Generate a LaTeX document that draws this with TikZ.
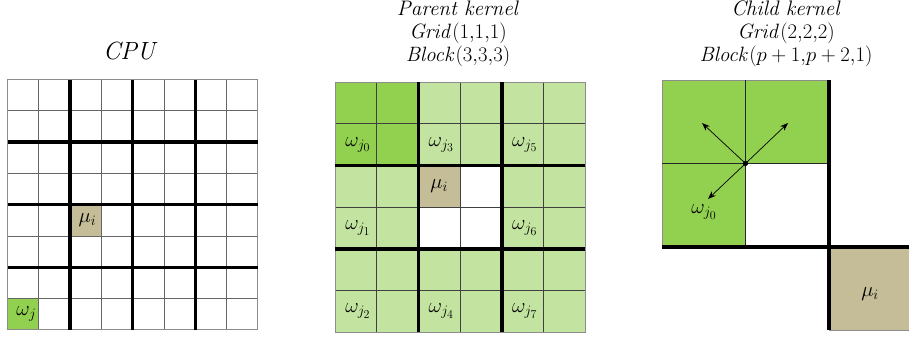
\documentclass[tikz,border=0pt]{standalone}
\usepackage{tikz}
\usetikzlibrary{arrows.meta}
\DeclareMathSizes{20}{20}{15}{12}
\definecolor{dgreen}{HTML}{92D050}
\definecolor{lgreen}{HTML}{C3E4A0}
\definecolor{tan}{HTML}{C4BD97}
\tikzset{
  thinline/.style={draw=black!75, line width=0.9pt},
  cpuline/.style={draw=black!60, line width=0.9pt},
  outline/.style={draw=black!45, line width=0.9pt},
  thickline/.style={draw=black, line width=3.4pt},
  lbl/.style={font=\fontsize{20}{20}\selectfont, inner sep=0pt},
  ttl/.style={font=\fontsize{21}{23}\selectfont, align=center, inner sep=0pt},
  arr/.style={-{Stealth[length=8pt,width=6pt]}, line width=0.7pt}
}
\begin{document}
\begin{tikzpicture}[x=1pt,y=-1pt]
\useasboundingbox (0,0) rectangle (909,340);
% ---------- CPU ----------
\def\cx{7.5}\def\cy{79.5}\def\cc{31.3}
\fill[dgreen] (\cx,\cy+7*\cc) rectangle (\cx+\cc,\cy+8*\cc);
\fill[tan] (\cx+2*\cc,\cy+4*\cc) rectangle (\cx+3*\cc,\cy+5*\cc);
\foreach \i in {1,...,7} {
  \draw[cpuline] (\cx+\i*\cc,\cy) -- (\cx+\i*\cc,\cy+8*\cc);
  \draw[cpuline] (\cx,\cy+\i*\cc) -- (\cx+8*\cc,\cy+\i*\cc);
}
\draw[outline] (\cx,\cy) rectangle (\cx+8*\cc,\cy+8*\cc);
\foreach \i in {2,4,6} {
  \draw[thickline] (\cx+\i*\cc,\cy) -- (\cx+\i*\cc,\cy+8*\cc);
  \draw[thickline] (\cx,\cy+\i*\cc) -- (\cx+8*\cc,\cy+\i*\cc);
}
\node[ttl, font=\fontsize{25}{25}\selectfont] (cputitle) at (131,51) {$\mathit{CPU}$};
\node[lbl] (cpumu) at (\cx+2.55*\cc,\cy+4.5*\cc) {$\mu_i$};
\node[lbl] (cpuw) at (\cx+0.6*\cc,\cy+7.5*\cc) {$\omega_j$};
% ---------- Parent ----------
\def\px{335}\def\py{82}\def\pc{41.7}
\fill[lgreen] (\px,\py) rectangle (\px+6*\pc,\py+6*\pc);
\fill[dgreen] (\px,\py) rectangle (\px+2*\pc,\py+2*\pc);
\fill[white] (\px+2*\pc,\py+2*\pc) rectangle (\px+4*\pc,\py+4*\pc);
\fill[tan] (\px+2*\pc,\py+2*\pc) rectangle (\px+3*\pc,\py+3*\pc);
\foreach \i in {1,3,5} {
  \draw[thinline] (\px+\i*\pc,\py) -- (\px+\i*\pc,\py+6*\pc);
  \draw[thinline] (\px,\py+\i*\pc) -- (\px+6*\pc,\py+\i*\pc);
}
\draw[outline] (\px,\py) rectangle (\px+6*\pc,\py+6*\pc);
\foreach \i in {2,4} {
  \draw[thickline] (\px+\i*\pc,\py) -- (\px+\i*\pc,\py+6*\pc);
  \draw[thickline] (\px,\py+\i*\pc) -- (\px+6*\pc,\py+\i*\pc);
}
\node[ttl] (ptitle) at (458,34) {\textit{Parent kernel}\\$\mathit{Grid}(1{,}1{,}1)$\\$\mathit{Block}(3{,}3{,}3)$};
\node[lbl] (pmu) at (\px+2.5*\pc,\py+2.5*\pc) {$\mu_i$};
\node[lbl] (pw0) at (\px+0.55*\pc,\py+1.5*\pc) {$\omega_{j_0}$};
\node[lbl] (pw3) at (\px+2.55*\pc,\py+1.5*\pc) {$\omega_{j_3}$};
\node[lbl] (pw5) at (\px+4.55*\pc,\py+1.5*\pc) {$\omega_{j_5}$};
\node[lbl] (pw1) at (\px+0.55*\pc,\py+3.5*\pc) {$\omega_{j_1}$};
\node[lbl] (pw6) at (\px+4.55*\pc,\py+3.5*\pc) {$\omega_{j_6}$};
\node[lbl] (pw2) at (\px+0.55*\pc,\py+5.5*\pc) {$\omega_{j_2}$};
\node[lbl] (pw4) at (\px+2.55*\pc,\py+5.5*\pc) {$\omega_{j_4}$};
\node[lbl] (pw7) at (\px+4.55*\pc,\py+5.5*\pc) {$\omega_{j_7}$};
% ---------- Child ----------
\def\kx{662}\def\ky{80}\def\kc{83.5}
\fill[dgreen] (\kx,\ky) rectangle (\kx+2*\kc,\ky+\kc);
\fill[dgreen] (\kx,\ky+\kc) rectangle (\kx+\kc,\ky+2*\kc);
\fill[tan] (\kx+2*\kc,\ky+2*\kc) rectangle (912,330);
\draw[outline] (\kx,\ky+2*\kc) -- (\kx,\ky) -- (\kx+2*\kc,\ky);
\draw[outline] (\kx+2*\kc,330) -- (912,330);
\draw[thinline, draw=black!85] (\kx+\kc,\ky) -- (\kx+\kc,\ky+2*\kc);
\draw[thinline, draw=black!85] (\kx,\ky+\kc) -- (\kx+2*\kc,\ky+\kc);
\draw[thickline] (\kx+2*\kc,\ky) -- (\kx+2*\kc,330);
\draw[thickline] (\kx,\ky+2*\kc) -- (912,\ky+2*\kc);
\node[ttl] (ctitle) at (786,34) {\textit{Child kernel}\\$\mathit{Grid}(2{,}2{,}2)$\\$\mathit{Block}(p+1{,}p+2{,}1)$};
\coordinate (ctr) at (\kx+\kc,\ky+\kc);
\coordinate (aul) at (702,123);
\coordinate (aur) at (788,123);
\coordinate (adl) at (708,199);
\fill (ctr) circle (2.6pt);
\draw[arr] (ctr) -- (aul);
\draw[arr] (ctr) -- (aur);
\draw[arr] (ctr) -- (adl);
\node[lbl] (cw0) at (704,212) {$\omega_{j_0}$};
\node[lbl] (cmu) at (870,294) {$\mu_i$};
\end{tikzpicture}
\end{document}
